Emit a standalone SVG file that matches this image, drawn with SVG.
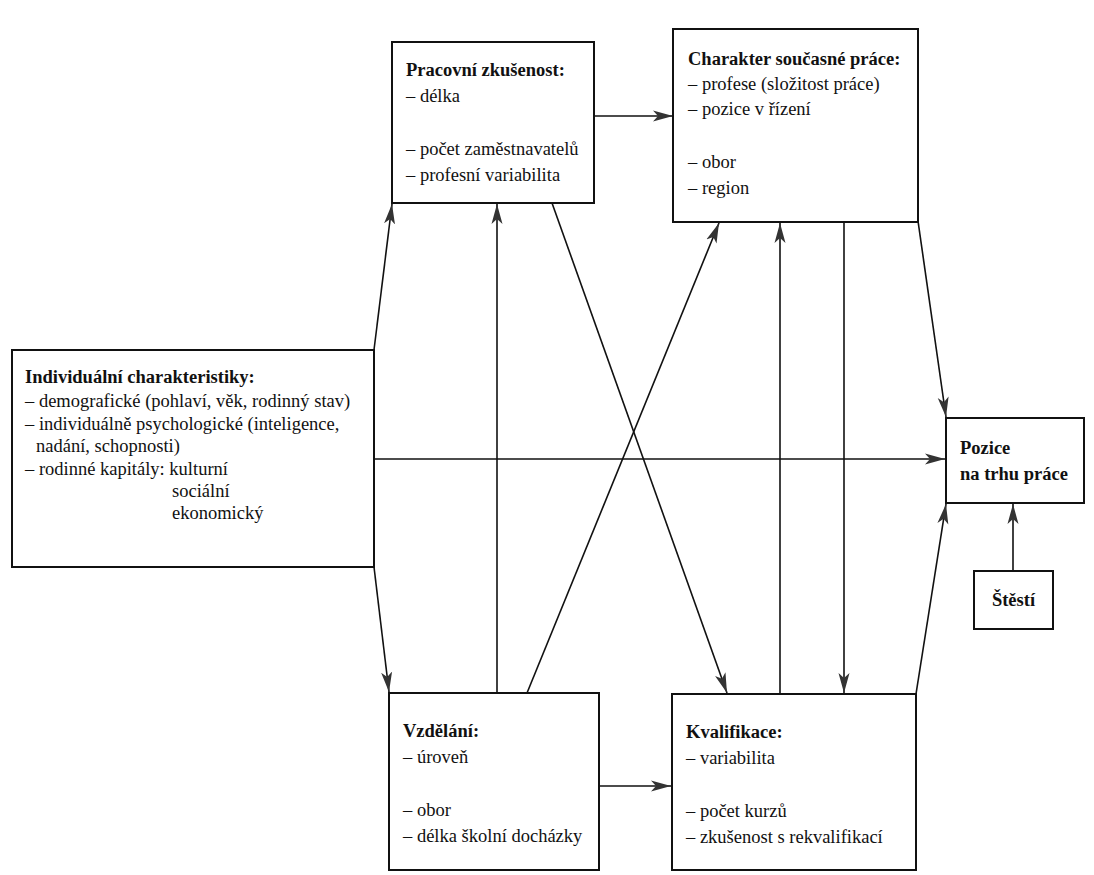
<svg xmlns="http://www.w3.org/2000/svg" width="1094" height="875" viewBox="0 0 1094 875">
<defs>
<marker id="ah" markerUnits="userSpaceOnUse" markerWidth="20" markerHeight="12" refX="20" refY="6" orient="auto">
<path d="M0,0.5 L20,6 L0,11.5 L5,6 Z" fill="#333"/>
</marker>
</defs>
<style>
.box{fill:#fff;stroke:#111;stroke-width:2}
.t{font-family:"Liberation Serif","Times New Roman",serif;font-size:18.5px;fill:#111}
.b{font-weight:bold}
.c{fill:none;stroke:#111;stroke-width:1.6;marker-end:url(#ah)}
</style>
<rect width="1094" height="875" fill="#fff"/>
<g id="connectors">
<line class="c" x1="374" y1="350" x2="392" y2="204"/>
<line class="c" x1="374" y1="567" x2="389" y2="692"/>
<line class="c" x1="374" y1="459" x2="945" y2="459"/>
<line class="c" x1="594" y1="116" x2="673" y2="116"/>
<line class="c" x1="599" y1="786" x2="671" y2="786"/>
<line class="c" x1="497" y1="693" x2="497" y2="204"/>
<line class="c" x1="527" y1="693" x2="719" y2="223"/>
<line class="c" x1="552" y1="203" x2="727" y2="693"/>
<line class="c" x1="780" y1="694" x2="780" y2="223"/>
<line class="c" x1="844" y1="222" x2="844" y2="693"/>
<line class="c" x1="918" y1="221" x2="946" y2="417"/>
<line class="c" x1="916" y1="694" x2="946" y2="504"/>
<line class="c" x1="1013" y1="571" x2="1013" y2="504"/>
</g>
<g id="individualni">
<rect class="box" x="12" y="350" width="362" height="217"/>
<text class="t b" x="25" y="383">Individuální charakteristiky:</text>
<text class="t" x="25" y="407">– demografické (pohlaví, věk, rodinný stav)</text>
<text class="t" x="25" y="430">– individuálně psychologické (inteligence,</text>
<text class="t" x="36" y="452">nadání, schopnosti)</text>
<text class="t" x="25" y="475">– rodinné kapitály: kulturní</text>
<text class="t" x="172" y="497">sociální</text>
<text class="t" x="172" y="519">ekonomický</text>
</g>
<g id="pracovni">
<rect class="box" x="392" y="42" width="202" height="161"/>
<text class="t b" x="406" y="76">Pracovní zkušenost:</text>
<text class="t" x="406" y="102">– délka</text>
<text class="t" x="406" y="155">– počet zaměstnavatelů</text>
<text class="t" x="406" y="181">– profesní variabilita</text>
</g>
<g id="charakter">
<rect class="box" x="673" y="29" width="245" height="193"/>
<text class="t b" x="688" y="65">Charakter současné práce:</text>
<text class="t" x="688" y="90">– profese (složitost práce)</text>
<text class="t" x="688" y="115">– pozice v řízení</text>
<text class="t" x="688" y="168">– obor</text>
<text class="t" x="688" y="194">– region</text>
</g>
<g id="vzdelani">
<rect class="box" x="389" y="693" width="210" height="177"/>
<text class="t b" x="403" y="737">Vzdělání:</text>
<text class="t" x="403" y="763">– úroveň</text>
<text class="t" x="403" y="816">– obor</text>
<text class="t" x="403" y="842">– délka školní docházky</text>
</g>
<g id="kvalifikace">
<rect class="box" x="672" y="694" width="244" height="176"/>
<text class="t b" x="686" y="738">Kvalifikace:</text>
<text class="t" x="686" y="764">– variabilita</text>
<text class="t" x="686" y="817">– počet kurzů</text>
<text class="t" x="686" y="843">– zkušenost s rekvalifikací</text>
</g>
<g id="pozice">
<rect class="box" x="946" y="418" width="138" height="85"/>
<text class="t b" x="960" y="454">Pozice</text>
<text class="t b" x="960" y="480">na trhu práce</text>
</g>
<g id="stesti">
<rect class="box" x="974" y="571" width="79" height="58"/>
<text class="t b" x="1013.5" y="606" text-anchor="middle">Štěstí</text>
</g>
</svg>
